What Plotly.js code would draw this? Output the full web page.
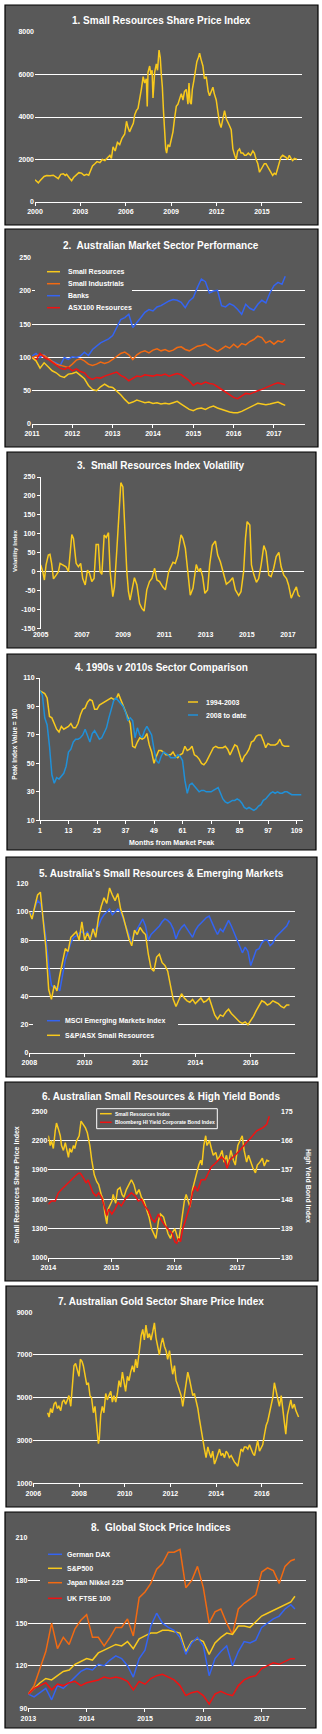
<!DOCTYPE html>
<html><head><meta charset="utf-8">
<script src="https://cdn.plot.ly/plotly-3.0.1.min.js"></script>
<style>html,body{margin:0;padding:0;background:#fff;}#chart{width:322px;height:1734px;}</style>
</head><body><div id="chart"></div>
<script>
// ---------- DATA ----------
// Panel 1: Small Resources Share Price Index
const p1Years = [2000.00,2000.10,2000.22,2000.33,2000.44,2000.60,2000.77,2001.00,2001.21,2001.35,2001.54,2001.70,2001.87,2002.00,2002.09,2002.25,2002.42,2002.55,2002.75,2002.90,2003.08,2003.25,2003.41,2003.55,2003.63,2003.80,2003.96,2004.10,2004.29,2004.45,2004.62,2004.80,2004.95,2005.05,2005.16,2005.30,2005.45,2005.60,2005.75,2005.93,2006.05,2006.15,2006.25,2006.37,2006.50,2006.59,2006.70,2006.81,2006.92,2007.03,2007.15,2007.25,2007.36,2007.42,2007.47,2007.58,2007.66,2007.74,2007.80,2007.91,2008.02,2008.10,2008.20,2008.28,2008.35,2008.42,2008.50,2008.57,2008.64,2008.70,2008.79,2008.90,2009.01,2009.12,2009.22,2009.34,2009.45,2009.56,2009.67,2009.78,2009.88,2010.00,2010.11,2010.18,2010.25,2010.33,2010.40,2010.50,2010.60,2010.70,2010.80,2010.88,2010.98,2011.10,2011.20,2011.32,2011.45,2011.54,2011.65,2011.76,2011.85,2011.98,2012.10,2012.20,2012.30,2012.42,2012.53,2012.65,2012.75,2012.85,2012.97,2013.08,2013.20,2013.30,2013.40,2013.52,2013.62,2013.74,2013.85,2013.96,2014.10,2014.25,2014.40,2014.50,2014.62,2014.73,2014.84,2014.95,2015.05,2015.16,2015.27,2015.38,2015.49,2015.60,2015.71,2015.82,2015.93,2016.05,2016.15,2016.25,2016.37,2016.47,2016.59,2016.70,2016.81,2016.92,2017.03,2017.15,2017.32];
const p1Index = [1050,980,900,1000,1100,1200,1250,1230,1260,1200,1100,1300,1330,1250,1300,1150,1000,1150,1280,1380,1360,1250,1300,1260,1400,1700,1800,1900,1850,2000,1950,2100,2200,2050,2600,2400,2800,2700,3000,3200,3800,3500,3300,3500,3700,4100,4300,4400,4800,5300,5900,5600,5800,4500,6100,6400,6000,6200,4900,6100,6500,6200,7150,6800,6000,5400,4200,3300,2500,2300,2700,2600,2900,3300,3900,4500,4600,4900,5100,4800,5200,5300,4600,5600,4700,4600,5300,5700,6200,6600,6800,7000,6700,6400,5800,5900,5200,5000,5200,5400,5100,4800,4200,3700,3500,3900,4300,3900,3700,3600,3400,2500,2200,2000,2400,2500,2300,2300,2200,2200,2300,2200,2400,2300,2000,1800,1400,1550,1700,1800,1800,1650,1500,1350,1250,1350,1300,1600,1900,2100,2200,2150,2100,2000,2200,2050,1950,2050,2000];
const p1YearTicks = [2000,2003,2006,2009,2012,2015];
const p1ValueTicks = [0,2000,4000,6000,8000];

// Panel 2: Australian Market Sector Performance
const p2Years = [2011.0,2011.1,2011.2,2011.3,2011.4,2011.5,2011.6,2011.7,2011.8,2011.9,2012.0,2012.1,2012.2,2012.3,2012.4,2012.5,2012.6,2012.7,2012.8,2012.9,2013.0,2013.1,2013.2,2013.3,2013.4,2013.5,2013.6,2013.7,2013.8,2013.9,2014.0,2014.1,2014.2,2014.3,2014.4,2014.5,2014.6,2014.7,2014.8,2014.9,2015.0,2015.1,2015.2,2015.3,2015.4,2015.5,2015.6,2015.7,2015.8,2015.9,2016.0,2016.1,2016.2,2016.3,2016.4,2016.5,2016.6,2016.7,2016.8,2016.9,2017.0,2017.1,2017.2,2017.28];
const p2Banks = [102,106,100,104,97,95,92,88,100,97,101,100,102,108,103,112,117,122,125,128,133,145,157,160,165,145,152,160,168,172,170,176,178,182,185,187,186,183,175,185,190,205,218,214,197,200,201,178,176,181,178,172,165,180,174,171,180,186,182,197,208,213,210,222];
const p2SmallIndustrials = [100,102,104,103,98,94,90,88,86,85,90,96,98,95,90,88,90,93,91,93,97,102,106,108,104,97,104,108,110,107,111,113,110,112,109,111,115,116,112,110,113,117,118,120,116,112,109,113,117,114,120,115,121,119,124,127,132,130,122,125,120,125,123,127];
const p2Asx100Resources = [100,96,106,100,97,93,88,84,82,85,80,83,79,77,70,67,70,69,72,74,76,78,73,70,65,68,72,71,74,73,72,74,73,75,72,74,76,74,70,65,58,62,60,63,61,60,56,52,48,44,40,38,42,46,45,48,50,52,55,58,60,62,60,59];
const p2SmallResources = [100,95,84,92,86,80,77,72,70,75,76,78,73,68,58,52,50,56,60,56,55,50,44,37,31,33,36,34,32,33,31,32,30,31,30,32,34,30,26,22,20,23,24,22,25,27,24,22,19,18,17,17,19,22,25,29,31,30,29,30,31,33,30,28];
const p2YearTicks = [2011,2012,2013,2014,2015,2016,2017];
const p2ValueTicks = [0,50,100,150,200,250];
const p2Names = ['Small Resources','Small Industrials','Banks','ASX100 Resources'];

// Panel 3: Small Resources Index Volatility
const p3Years = [2005.00,2005.10,2005.18,2005.26,2005.37,2005.45,2005.53,2005.62,2005.75,2005.86,2005.94,2006.10,2006.23,2006.35,2006.43,2006.51,2006.59,2006.72,2006.83,2006.94,2007.04,2007.16,2007.27,2007.37,2007.48,2007.59,2007.69,2007.80,2007.88,2007.97,2008.08,2008.18,2008.29,2008.37,2008.50,2008.58,2008.70,2008.82,2008.89,2008.99,2009.10,2009.18,2009.26,2009.34,2009.46,2009.55,2009.67,2009.80,2009.91,2010.02,2010.15,2010.28,2010.40,2010.53,2010.64,2010.77,2010.92,2011.05,2011.21,2011.32,2011.42,2011.53,2011.65,2011.81,2011.90,2012.02,2012.13,2012.26,2012.39,2012.55,2012.67,2012.75,2012.86,2012.97,2013.10,2013.20,2013.33,2013.48,2013.59,2013.72,2013.85,2014.01,2014.17,2014.32,2014.45,2014.61,2014.72,2014.85,2014.94,2015.02,2015.15,2015.23,2015.34,2015.47,2015.58,2015.70,2015.83,2015.94,2016.07,2016.18,2016.31,2016.43,2016.56,2016.67,2016.80,2016.93,2017.03,2017.16,2017.29,2017.41,2017.50,2017.58];
const p3Volatility = [18,0,-22,18,44,46,22,-19,-9,0,22,17,13,0,53,98,88,22,13,22,-18,-35,4,-4,-26,-18,72,72,0,-7,97,90,103,0,-66,-40,62,176,235,224,88,0,-53,-75,-40,-16,-35,-84,-97,-104,-48,-26,-18,9,-22,-26,-40,-48,0,13,25,22,42,97,88,62,0,-62,-44,19,0,9,-13,-57,-48,18,70,81,44,26,0,-33,-26,-16,-48,-63,-53,0,88,132,123,18,-7,-28,-18,18,69,53,-9,-13,9,40,51,13,-9,-18,-35,-70,-53,-40,-62,-66];
const p3YearTicks = [2005,2007,2009,2011,2013,2015,2017];
const p3ValueTicks = [-150,-100,-50,0,50,100,150,200,250];

// Panel 4: 1990s v 2010s Sector Comparison (months from market peak)
const p4MonthsA = [1,2,3,4,5,6,7,8,9,10,11,12,13,14,15,16,17,18,19,20,21,22,23,24,25,26,27,28,29,30,31,32,33,34,35,36,37,38,39,40,41,42,43,44,45,46,47,48,49,50,51,52,53,54,55,56,57,58,59,60,61,62,63,64,65,66,67,68,69,70,71,72,73,74,75,76,77,78,79,80,81,82,83,84,85,86,87,88,89,90,91,92,93,94,95,96,97,98,99,100,101,102,103,104,105,106];
const p4Era1994 = [101,100,99,96,83,82,78,74,72,76,74,75,76,78,75,75,78,84,88,89,93,95,94,88,88,91,92,93,94,95,96,95,95,99,95,90,86,82,78,62,61,65,68,67,68,71,63,58,50,55,59,59,58,56,56,56,58,55,54,56,57,62,59,60,62,56,55,53,50,49,51,54,57,61,62,61,61,61,62,60,56,59,63,62,57,51,55,57,60,65,66,69,70,70,66,61,64,63,63,63,64,67,63,62,62,62];
const p4MonthsB = [1,2,3,4,5,6,7,8,9,10,11,12,13,14,15,16,17,18,19,20,21,22,23,24,25,26,27,28,29,30,31,32,33,34,35,36,37,38,39,40,41,42,43,44,45,46,47,48,49,50,51,52,53,54,55,56,57,58,59,60,61,62,63,64,65,66,67,68,69,70,71,72,73,74,75,76,77,78,79,80,81,82,83,84,85,86,87,88,89,90,91,92,93,94,95,96,97,98,99,100,101,102,103,104,105,106,107,108,109,110,111];
const p4Era2008 = [101,98,82,77,62,42,36,40,39,41,43,48,58,60,65,67,67,68,70,74,70,65,71,73,70,67,68,72,75,82,88,94,96,94,92,90,86,80,82,80,68,75,70,68,73,76,73,70,60,52,50,55,58,57,56,54,54,54,56,55,52,38,29,35,36,34,32,30,31,31,30,30,30,31,32,33,29,25,23,22,23,24,24,25,24,22,19,18,19,18,17,18,20,21,24,25,27,29,30,29,30,29,29,30,30,29,28,28,28,28,28];
const p4MonthTicks = [1,13,25,37,49,61,73,85,97,109];
const p4ValueTicks = [10,30,50,70,90,110];
const p4Names = ['1994-2003','2008 to date'];

// Panel 5: Australia's Small Resources & Emerging Markets
const p5Years = [2008.0,2008.1,2008.2,2008.3,2008.4,2008.5,2008.6,2008.7,2008.8,2008.9,2009.0,2009.1,2009.2,2009.3,2009.4,2009.5,2009.6,2009.7,2009.8,2009.9,2010.0,2010.1,2010.2,2010.3,2010.4,2010.5,2010.6,2010.7,2010.8,2010.9,2011.0,2011.1,2011.2,2011.3,2011.4,2011.5,2011.6,2011.7,2011.8,2011.9,2012.0,2012.1,2012.2,2012.3,2012.4,2012.5,2012.6,2012.7,2012.8,2012.9,2013.0,2013.1,2013.2,2013.3,2013.4,2013.5,2013.6,2013.7,2013.8,2013.9,2014.0,2014.1,2014.2,2014.3,2014.4,2014.5,2014.6,2014.7,2014.8,2014.9,2015.0,2015.1,2015.2,2015.3,2015.4,2015.5,2015.6,2015.7,2015.8,2015.9,2016.0,2016.1,2016.2,2016.3,2016.4,2016.5,2016.6,2016.7,2016.8,2016.9,2017.0,2017.1,2017.2,2017.3,2017.4];
const p5Msci = [100,98,103,108,106,96,82,62,48,46,47,44,55,66,72,78,82,83,85,86,84,86,82,86,88,90,95,98,100,102,98,100,102,100,95,90,84,78,85,88,92,95,90,80,84,86,88,90,93,95,94,92,88,81,86,89,91,88,85,82,87,90,92,94,96,97,92,88,84,88,86,90,94,90,85,80,76,71,75,72,62,68,73,74,78,80,80,76,78,82,84,86,88,90,94];
const p5SmallRes = [100,95,104,112,114,93,75,45,38,48,44,55,64,74,72,82,84,86,80,93,80,85,80,88,82,96,104,110,106,117,112,108,113,102,96,88,81,76,87,84,89,86,84,70,60,58,68,70,64,62,58,48,38,33,38,42,39,37,36,38,35,37,39,36,37,39,33,27,24,27,26,29,31,28,26,24,22,21,22,20,23,26,30,34,37,36,34,35,37,36,35,33,32,34,34];
const p5YearTicks = [2008,2010,2012,2014,2016];
const p5ValueTicks = [0,20,40,60,80,100,120];
const p5Names = ['MSCI Emerging Markets Index','S&P/ASX Small Resources'];

// Panel 6: Australian Small Resources & High Yield Bonds
const p6YearsA = [2014.00,2014.03,2014.05,2014.08,2014.11,2014.13,2014.16,2014.19,2014.21,2014.24,2014.27,2014.29,2014.32,2014.34,2014.37,2014.40,2014.42,2014.45,2014.49,2014.52,2014.56,2014.59,2014.62,2014.66,2014.69,2014.73,2014.77,2014.80,2014.84,2014.87,2014.90,2014.93,2014.95,2014.98,2015.01,2015.03,2015.07,2015.10,2015.14,2015.17,2015.20,2015.24,2015.28,2015.32,2015.36,2015.40,2015.44,2015.48,2015.52,2015.56,2015.60,2015.64,2015.68,2015.71,2015.75,2015.78,2015.83,2015.86,2015.90,2015.94,2015.97,2016.01,2016.04,2016.07,2016.10,2016.13,2016.16,2016.19,2016.21,2016.25,2016.29,2016.32,2016.35,2016.39,2016.42,2016.44,2016.47,2016.50,2016.52,2016.56,2016.59,2016.62,2016.66,2016.69,2016.73,2016.76,2016.79,2016.83,2016.86,2016.90,2016.94,2016.97,2017.01,2017.04,2017.08,2017.11,2017.15,2017.18,2017.21,2017.25,2017.29,2017.32,2017.36,2017.40,2017.43,2017.47,2017.51];
const p6SmallRes = [2250,2150,2200,2120,2300,2380,2320,2250,2150,2100,2180,2120,2030,2120,2080,2150,2120,2200,2250,2400,2360,2330,2280,2150,2000,1850,1780,1750,1650,1600,1450,1350,1500,1550,1580,1650,1560,1700,1720,1650,1620,1700,1750,1800,1750,1650,1700,1620,1580,1500,1420,1300,1250,1200,1380,1450,1420,1350,1250,1200,1260,1300,1240,1170,1300,1450,1580,1650,1600,1520,1700,1780,1850,1950,2000,1950,2150,2250,2150,2200,2120,2050,2080,2000,2050,2100,1980,2050,1950,2100,2000,1950,2150,2200,2250,2100,1980,2050,1990,1920,1870,1950,1980,2020,1940,2000,1990];
const p6YearsB = [2014.00,2014.05,2014.11,2014.16,2014.21,2014.26,2014.32,2014.37,2014.42,2014.48,2014.51,2014.56,2014.60,2014.63,2014.67,2014.71,2014.76,2014.80,2014.85,2014.89,2014.93,2014.96,2015.01,2015.06,2015.11,2015.16,2015.22,2015.27,2015.32,2015.38,2015.43,2015.48,2015.53,2015.59,2015.64,2015.69,2015.75,2015.80,2015.85,2015.90,2015.94,2015.97,2016.01,2016.04,2016.07,2016.10,2016.13,2016.17,2016.21,2016.25,2016.29,2016.33,2016.37,2016.40,2016.43,2016.49,2016.54,2016.59,2016.65,2016.70,2016.75,2016.80,2016.84,2016.88,2016.94,2016.99,2017.04,2017.10,2017.15,2017.20,2017.25,2017.31,2017.36,2017.41,2017.47,2017.51];
const p6HighYield = [146.5,147.5,147.5,150,151,152,153,154,155,156,156,154.5,153,154,152,150,149,150,148.5,146,143,145,143.5,145,147,146,148,149,150,149,147.5,148,146,144.5,142,141,143.5,141.5,140,139,138,137.5,135,134.5,136,135,138.5,141,144,146,150,152,150.5,152,154,154,156,158,159,160,161,160,157.5,160,161,162,163,164.5,165.5,166.5,167.5,169,169.5,170,171,173.5];
const p6YearTicks = [2014,2015,2016,2017];
const p6LeftTicks = [1000,1300,1600,1900,2200,2500];
const p6RightTicks = [130,139,148,157,166,175];
const p6Names = ['Small Resources Index','Bloomberg HI Yield Corporate Bond Index'];

// Panel 7: Australian Gold Sector Share Price Index
const p7Years = [2006.63,2006.69,2006.76,2006.83,2006.91,2006.98,2007.05,2007.12,2007.20,2007.27,2007.34,2007.42,2007.49,2007.56,2007.64,2007.71,2007.78,2007.85,2007.93,2008.00,2008.06,2008.13,2008.19,2008.26,2008.34,2008.41,2008.48,2008.55,2008.63,2008.70,2008.77,2008.85,2008.89,2008.95,2009.02,2009.09,2009.17,2009.24,2009.31,2009.39,2009.46,2009.53,2009.61,2009.68,2009.75,2009.82,2009.90,2009.97,2010.04,2010.12,2010.19,2010.26,2010.34,2010.41,2010.48,2010.55,2010.64,2010.72,2010.79,2010.86,2010.93,2011.01,2011.08,2011.15,2011.23,2011.30,2011.37,2011.45,2011.52,2011.59,2011.66,2011.74,2011.81,2011.88,2011.96,2012.03,2012.10,2012.18,2012.25,2012.32,2012.39,2012.47,2012.54,2012.61,2012.69,2012.76,2012.83,2012.91,2012.98,2013.05,2013.12,2013.20,2013.27,2013.34,2013.42,2013.49,2013.56,2013.64,2013.71,2013.78,2013.85,2013.93,2014.00,2014.07,2014.15,2014.22,2014.29,2014.37,2014.44,2014.51,2014.58,2014.66,2014.73,2014.80,2014.88,2014.95,2015.02,2015.09,2015.17,2015.24,2015.31,2015.39,2015.46,2015.53,2015.61,2015.68,2015.75,2015.82,2015.90,2015.97,2016.04,2016.12,2016.19,2016.26,2016.34,2016.41,2016.48,2016.55,2016.63,2016.70,2016.77,2016.85,2016.92,2016.99,2017.05,2017.12,2017.20,2017.27,2017.34,2017.42,2017.49,2017.56,2017.61];
const p7Gold = [4300,4100,4500,4300,4700,4800,4500,4600,4400,4800,4900,4700,4900,5100,4600,5600,6500,6600,6200,6000,6800,6700,6500,6000,5600,5700,5100,5000,4300,4600,3800,2850,3100,4200,4600,4300,5200,4900,5100,5300,4800,5100,4800,5200,5800,5500,6200,5800,5300,6000,5800,6200,6500,6200,6800,6400,7200,7900,8200,7700,8400,7800,8000,7700,8100,8500,7800,7300,7000,7500,7800,7400,7200,6800,7200,6600,6100,6500,5800,5600,5400,5100,4600,5100,5700,6200,5900,5500,5100,5200,4900,4500,4000,3500,3000,2600,2200,2700,2400,2200,2500,1900,2100,2300,2600,2300,2400,2200,2500,2400,2200,2300,2100,2000,1900,1800,2200,2600,2500,2700,2700,2600,2800,2600,2400,2300,2600,3000,2500,2700,2800,3300,3700,3900,4300,4700,5000,5700,5300,5000,4600,5100,4500,3700,3300,4200,4600,4900,4500,4700,4400,4200,4100];
const p7YearTicks = [2006,2008,2010,2012,2014,2016];
const p7ValueTicks = [1000,3000,5000,7000,9000];

// Panel 8: Global Stock Price Indices
const p8Years = [2013.0,2013.1,2013.2,2013.3,2013.4,2013.5,2013.6,2013.7,2013.8,2013.9,2014.0,2014.1,2014.2,2014.3,2014.4,2014.5,2014.6,2014.7,2014.8,2014.9,2015.0,2015.1,2015.2,2015.3,2015.4,2015.5,2015.6,2015.7,2015.8,2015.9,2016.0,2016.1,2016.2,2016.3,2016.4,2016.5,2016.6,2016.7,2016.8,2016.9,2017.0,2017.1,2017.2,2017.3,2017.4,2017.5,2017.57];
const p8Nikkei = [100,106,118,130,150,132,140,135,146,152,156,140,140,134,140,147,147,153,141,168,172,178,188,192,200,200,202,175,180,190,175,150,158,160,150,142,160,164,167,170,186,189,187,178,190,194,195];
const p8Sp500 = [100,104,108,111,110,113,116,117,121,123,125,124,129,131,133,135,134,137,132,139,141,143,143,145,145,144,143,130,137,139,137,128,136,140,143,142,148,148,147,151,155,157,159,161,163,165,169];
const p8Dax = [100,98,101,104,96,106,104,108,112,116,118,117,121,120,124,127,125,120,112,125,131,148,157,150,147,145,140,128,136,140,134,113,125,130,134,120,130,137,136,138,147,150,153,155,160,163,160];
const p8Ftse = [100,104,106,108,103,107,106,108,109,106,108,109,110,112,111,112,111,109,103,109,107,111,113,114,112,110,106,99,101,102,99,93,100,102,100,99,106,110,112,113,118,120,122,121,123,125,125];
const p8YearTicks = [2013,2014,2015,2016,2017];
const p8ValueTicks = [90,120,150,180,210];
const p8Names = ['German DAX','S&P500','Japan Nikkei 225','UK FTSE 100'];

const panelTitles = ['1. Small Resources Share Price Index','2.  Australian Market Sector Performance','3.  Small Resources Index Volatility','4. 1990s v 2010s Sector Comparison',"5. Australia's Small Resources & Emerging Markets",'6. Australian Small Resources & High Yield Bonds','7. Australian Gold Sector Share Price Index','8.  Global Stock Price Indices'];

// ---------- STYLE / GEOMETRY ----------
const W = 322, H = 1734;
const fx = v => v / W;
const fy = v => 1 - v / H;
const FONT = '"Liberation Sans", Arial, sans-serif';
const WHITE = '#ffffff', BG = '#595959';
const YELLOW = '#F8C91C', ORANGE = '#F26A12', BLUE = '#3464F2', RED = '#F01212', CYAN = '#2090D8';
const tickFont = {family: FONT, size: 7, color: WHITE, weight: 'bold'};

// plot areas in pixels: x [left,right], y [top,bottom]
const G = {
  1: {x: [35, 302], y: [32, 202]},
  2: {x: [32, 305], y: [257.7, 424]},
  3: {x: [40.7, 304], y: [477, 628.5]},
  4: {x: [40, 302.7], y: [678, 820.3]},
  5: {x: [29.3, 295], y: [883.7, 1053]},
  6: {x: [48.3, 280], y: [1111.3, 1258]},
  7: {x: [33.3, 302.7], y: [1312.2, 1483.3]},
  8: {x: [28.3, 306], y: [1538, 1708.3]}
};
const panelBoxes = [[5,5,318,225],[5,229,318,447],[7,452,316,648],[7,654,316,850],[6,857,317,1077],[5,1082,318,1281],[6,1286,317,1507],[5,1512,316,1728]];
const titleY = [21, 245.7, 465.7, 667, 873, 1096.5, 1301.3, 1527.7];

function xAx(n, range, tickvals, extra) {
  return Object.assign({
    domain: [fx(G[n].x[0]), fx(G[n].x[1])], range: range, tickmode: 'array', tickvals: tickvals,
    ticktext: tickvals.map(String), showgrid: false, zeroline: false, showline: true, linecolor: WHITE,
    linewidth: 1, ticks: 'outside', ticklen: 3, tickwidth: 1, tickcolor: WHITE, tickfont: tickFont,
    anchor: n === 1 ? 'y' : 'y' + n, fixedrange: true
  }, extra || {});
}
function yAx(n, range, tickvals, extra) {
  return Object.assign({
    domain: [fy(G[n].y[1]), fy(G[n].y[0])], range: range, tickmode: 'array', tickvals: tickvals,
    ticktext: tickvals.map(String), showgrid: true, gridcolor: WHITE, gridwidth: 1, zeroline: false,
    showline: false, ticks: '', tickfont: tickFont, anchor: n === 1 ? 'x' : 'x' + n, fixedrange: true
  }, extra || {});
}
function ln(x, y, xa, ya, color, name, w) {
  return {type: 'scatter', mode: 'lines', x: x, y: y, xaxis: xa, yaxis: ya, name: name,
    line: {color: color, width: w || 1.5}, showlegend: false, hoverinfo: 'skip'};
}

const data = [
  ln(p1Years, p1Index, 'x', 'y', YELLOW, panelTitles[0]),
  ln(p2Years, p2Banks, 'x2', 'y2', BLUE, p2Names[2]),
  ln(p2Years, p2SmallIndustrials, 'x2', 'y2', ORANGE, p2Names[1]),
  ln(p2Years, p2Asx100Resources, 'x2', 'y2', RED, p2Names[3]),
  ln(p2Years, p2SmallResources, 'x2', 'y2', YELLOW, p2Names[0]),
  ln(p3Years, p3Volatility, 'x3', 'y3', YELLOW, 'Volatility'),
  ln(p4MonthsA, p4Era1994, 'x4', 'y4', YELLOW, p4Names[0]),
  ln(p4MonthsB, p4Era2008, 'x4', 'y4', CYAN, p4Names[1]),
  ln(p5Years, p5Msci, 'x5', 'y5', BLUE, p5Names[0]),
  ln(p5Years, p5SmallRes, 'x5', 'y5', YELLOW, p5Names[1]),
  ln(p6YearsA, p6SmallRes, 'x6', 'y6', YELLOW, p6Names[0]),
  ln(p6YearsB, p6HighYield, 'x6', 'y9', RED, p6Names[1]),
  ln(p7Years, p7Gold, 'x7', 'y7', YELLOW, panelTitles[6]),
  ln(p8Years, p8Nikkei, 'x8', 'y8', ORANGE, p8Names[2]),
  ln(p8Years, p8Sp500, 'x8', 'y8', YELLOW, p8Names[1]),
  ln(p8Years, p8Dax, 'x8', 'y8', BLUE, p8Names[0]),
  ln(p8Years, p8Ftse, 'x8', 'y8', RED, p8Names[3])
];

const layout = {
  width: W, height: H, margin: {l: 0, r: 0, t: 0, b: 0},
  paper_bgcolor: WHITE, plot_bgcolor: 'rgba(0,0,0,0)', showlegend: false,
  font: {family: FONT, color: WHITE},
  xaxis: xAx(1, [2000, 2017.65], p1YearTicks),
  yaxis: yAx(1, [0, 8000], p1ValueTicks),
  xaxis2: xAx(2, [2011, 2017.77], p2YearTicks),
  yaxis2: yAx(2, [0, 250], p2ValueTicks),
  xaxis3: xAx(3, [2005, 2017.78], p3YearTicks, {showline: false, ticks: ''}),
  yaxis3: yAx(3, [-150, 250], p3ValueTicks, {showgrid: false, showline: true, linecolor: WHITE, ticks: 'outside', ticklen: 3, tickcolor: WHITE, zeroline: true, zerolinecolor: WHITE, zerolinewidth: 1.2}),
  xaxis4: xAx(4, [1, 111.6], p4MonthTicks),
  yaxis4: yAx(4, [10, 110], p4ValueTicks, {showgrid: false, showline: true, linecolor: WHITE, ticks: 'outside', ticklen: 3, tickcolor: WHITE}),
  xaxis5: xAx(5, [2008, 2017.6], p5YearTicks),
  yaxis5: yAx(5, [0, 120], p5ValueTicks),
  xaxis6: xAx(6, [2014, 2017.68], p6YearTicks),
  yaxis6: yAx(6, [1000, 2500], p6LeftTicks),
  yaxis9: yAx(6, [130, 175], p6RightTicks, {overlaying: 'y6', side: 'right', showgrid: false, anchor: 'x6'}),
  xaxis7: xAx(7, [2006, 2017.79], p7YearTicks),
  yaxis7: yAx(7, [1000, 9000], p7ValueTicks),
  xaxis8: xAx(8, [2013, 2017.76], p8YearTicks),
  yaxis8: yAx(8, [90, 210], p8ValueTicks),
  shapes: [], annotations: []
};

// panel backgrounds
panelBoxes.forEach(b => layout.shapes.push({type: 'rect', xref: 'paper', yref: 'paper', layer: 'below',
  x0: fx(b[0]), x1: fx(b[2]), y0: fy(b[3]), y1: fy(b[1]), fillcolor: BG, line: {color: '#000', width: 1.2}}));

// titles
panelTitles.forEach((t, i) => layout.annotations.push({text: t, xref: 'paper', yref: 'paper', x: fx(161), y: fy(titleY[i]),
  xanchor: 'center', yanchor: 'middle', showarrow: false, font: {family: FONT, size: 10, color: WHITE, weight: 'bold'}}));

// legend cover boxes (paper units, drawn over gridlines)
function cover(x0, x1, y0, y1, border) {
  layout.shapes.push({type: 'rect', xref: 'paper', yref: 'paper', layer: 'above',
    x0: fx(x0), x1: fx(x1), y0: fy(y1), y1: fy(y0),
    fillcolor: BG, line: border ? {color: WHITE, width: 1} : {width: 0}});
}
cover(35, 132, 265, 311);
cover(33, 178, 1009, 1045);
cover(96.7, 217.3, 1108.7, 1128.7, true);
cover(40, 126, 1545, 1605);

// legend entries
function legend(items, lx0, lx1, tx, size) {
  items.forEach(it => {
    layout.shapes.push({type: 'line', xref: 'paper', yref: 'paper', layer: 'above', x0: fx(lx0), x1: fx(lx1), y0: fy(it[2]), y1: fy(it[2]),
      line: {color: it[1], width: 1.5}});
    layout.annotations.push({text: it[0], xref: 'paper', yref: 'paper', x: fx(tx), y: fy(it[2]), xanchor: 'left', yanchor: 'middle',
      showarrow: false, font: {family: FONT, size: size, color: WHITE, weight: 'bold'}});
  });
}
legend([[p2Names[0], YELLOW, 271.7], [p2Names[1], ORANGE, 283.7], [p2Names[2], BLUE, 295.7], [p2Names[3], RED, 307.7]], 47, 60, 65.5, 7);
legend([[p4Names[0], YELLOW, 702], [p4Names[1], CYAN, 715]], 188, 198, 204.5, 7);
legend([[p5Names[0], BLUE, 1020.7], [p5Names[1], YELLOW, 1035.3]], 47, 60, 62.5, 7);
legend([[p6Names[0], YELLOW, 1113.7], [p6Names[1], RED, 1122.3]], 100, 111.7, 113, 5);
legend([[p8Names[0], BLUE, 1554.3], [p8Names[1], YELLOW, 1568.3], [p8Names[2], ORANGE, 1582.7], [p8Names[3], RED, 1598.3]], 48, 62, 65, 7);

// axis titles
function axTitle(text, x, y, angle, size) {
  layout.annotations.push({text: text, xref: 'paper', yref: 'paper', x: fx(x), y: fy(y), xanchor: 'center', yanchor: 'middle',
    textangle: angle, showarrow: false, font: {family: FONT, size: size, color: WHITE, weight: 'bold'}});
}
axTitle('Volatility Index', 15, 551, -90, 6);
axTitle('Peak Index Value = 100', 15, 744.7, -90, 6.5);
axTitle('Months from Market Peak', 171.5, 842, 0, 7);
axTitle('Small Resources Share Price Index', 16.7, 1184.7, -90, 7);
axTitle('High Yield Bond Index', 308, 1186, 90, 7);

Plotly.newPlot('chart', data, layout, {displayModeBar: false, staticPlot: true});
</script></body></html>
